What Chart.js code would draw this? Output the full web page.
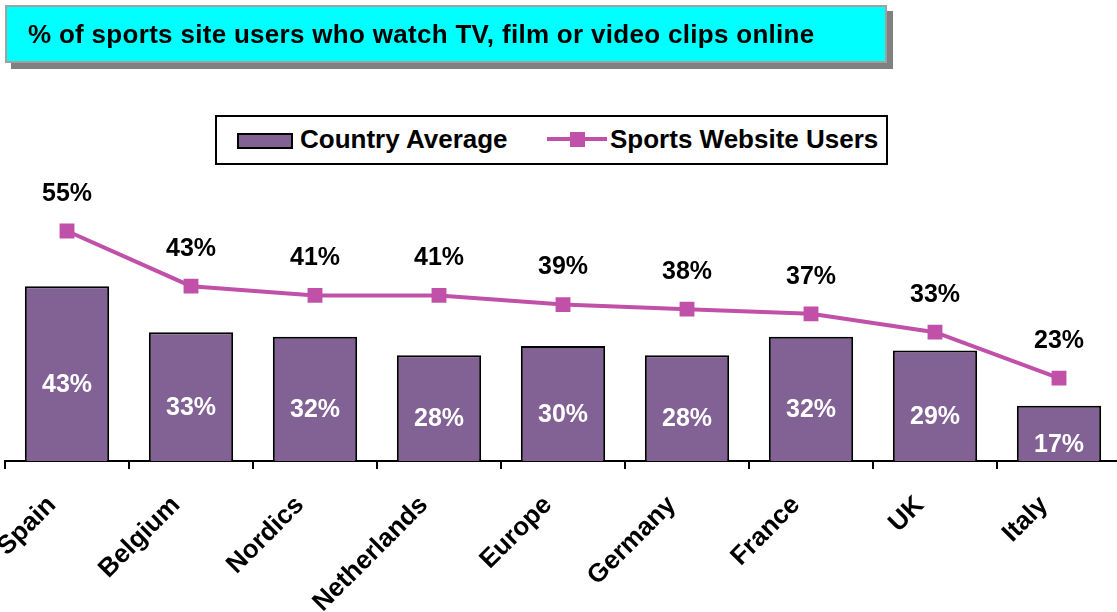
<!DOCTYPE html>
<html lang="en">
<head>
    <meta charset="UTF-8">
    <title>Sports site users - online video</title>
    <script src="https://cdn.jsdelivr.net/npm/chart.js"></script>
    <style>
        body {
            margin: 0;
            font-family: Arial, "Liberation Sans", sans-serif;
            background: #fff;
            overflow: hidden;
        }
        .wrap {
            position: relative;
            width: 1117px;
            height: 612px;
            overflow: hidden;
        }
        #chart {
            position: absolute;
            left: 0;
            top: 0;
        }
        .title {
            position: absolute;
            left: 5px;
            top: 5px;
            width: 857px;
            height: 54px;
            padding-left: 21px;
            background: #00ffff;
            border: 2px solid #a0a0a0;
            box-shadow: 6px 6px 0 #808080;
            font-weight: bold;
            font-size: 26px;
            letter-spacing: 0.3px;
            line-height: 54px;
        }
        .legend {
            position: absolute;
            left: 215px;
            top: 115px;
            width: 669px;
            height: 46px;
            border: 2px solid #000;
            background: #fff;
            font-weight: bold;
            font-size: 26px;
        }
        .legend span { position: absolute; top: 7px; }
        .swatch {
            position: absolute;
            left: 20px;
            top: 16px;
            width: 52px;
            height: 12px;
            background: #826194;
            border: 2px solid #000;
        }
        .lline {
            position: absolute;
            left: 330px;
            top: 20px;
            width: 60px;
            height: 4px;
            background: #c050a8;
        }
        .lmark {
            position: absolute;
            left: 353px;
            top: 15px;
            width: 15px;
            height: 15px;
            background: #c050a8;
        }
    </style>
</head>
<body>
<div class="wrap">
    <canvas id="chart" width="1125" height="612"></canvas>
    <div class="title">% of sports site users who watch TV, film or video clips online</div>
    <div class="legend">
        <div class="swatch"></div>
        <span style="left:83px">Country Average</span>
        <div class="lline"></div>
        <div class="lmark"></div>
        <span style="left:393px">Sports Website Users</span>
    </div>
</div>

<script>
    // chart data
    const countries = ['Spain', 'Belgium', 'Nordics', 'Netherlands', 'Europe', 'Germany', 'France', 'UK', 'Italy'];
    const countryAverage = [43, 33, 32, 28, 30, 28, 32, 29, 17];
    const sportsUsers = [55, 43, 41, 41, 39, 38, 37, 33, 23];

    // draws the % labels: white inside bars, black above line points
    const valueLabels = {
        id: 'valueLabels',
        afterDatasetsDraw(chart) {
            const ctx = chart.ctx;
            ctx.save();
            ctx.font = 'bold 25px Arial, "Liberation Sans", sans-serif';
            ctx.textAlign = 'center';
            ctx.textBaseline = 'middle';
            chart.getDatasetMeta(0).data.forEach((bar, i) => {
                ctx.fillStyle = '#ffffff';
                const mid = (bar.y + bar.base) / 2;
                ctx.fillText(countryAverage[i] + '%', bar.x, mid);
            });
            chart.getDatasetMeta(1).data.forEach((pt, i) => {
                ctx.fillStyle = '#000000';
                ctx.fillText(sportsUsers[i] + '%', pt.x, pt.y - 37);
            });
            ctx.restore();
        }
    };

    new Chart(document.getElementById('chart'), {
        type: 'bar',
        data: {
            labels: countries,
            datasets: [{
                label: 'Country Average',
                data: countryAverage,
                backgroundColor: '#826194',
                borderColor: '#000000',
                borderWidth: 2,
                barPercentage: 0.68,
                categoryPercentage: 1,
                order: 1
            }, {
                type: 'line',
                label: 'Sports Website Users',
                data: sportsUsers,
                borderColor: '#c050a8',
                backgroundColor: '#c050a8',
                borderWidth: 4,
                pointStyle: 'rect',
                pointRadius: 10.5,
                pointBorderWidth: 0,
                tension: 0,
                order: 0
            }]
        },
        options: {
            responsive: false,
            animation: false,
            layout: {
                autoPadding: false,
                padding: { top: 162, left: 5, right: 4, bottom: 0 }
            },
            plugins: {
                legend: { display: false },
                tooltip: { enabled: false }
            },
            scales: {
                x: {
                    afterFit(scale) {
                        scale.height = 151;
                        scale.paddingLeft = 0;
                        scale.paddingRight = 0;
                    },
                    grid: {
                        offset: true,
                        drawOnChartArea: false,
                        drawTicks: true,
                        tickLength: 8,
                        color: '#000000',
                        lineWidth: 2
                    },
                    border: { display: true, color: '#000000', width: 2 },
                    ticks: {
                        minRotation: 45,
                        maxRotation: 45,
                        padding: 21,
                        labelOffset: -15,
                        color: '#000000',
                        font: { family: 'Arial, "Liberation Sans", sans-serif', size: 26, weight: 'bold' }
                    }
                },
                y: {
                    display: false,
                    min: 5,
                    max: 70
                }
            }
        },
        plugins: [valueLabels]
    });
</script>
</body>
</html>
